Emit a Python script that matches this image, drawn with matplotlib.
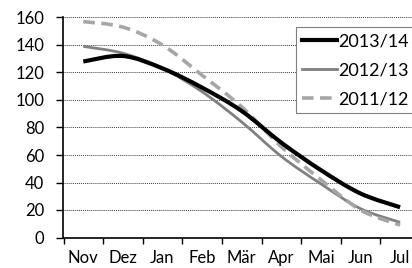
import numpy as np
import matplotlib
matplotlib.use("Agg")
import matplotlib.pyplot as plt
from matplotlib.path import Path
from matplotlib.patches import PathPatch
from matplotlib.lines import Line2D

plt.rcParams['font.family'] = ['Lato', 'DejaVu Sans']

months = ["Nov", "Dez", "Jan", "Feb", "Mär", "Apr", "Mai", "Jun", "Jul"]
s2013_14 = [128, 132, 123, 109, 92, 69, 49, 32, 22]
s2012_13 = [139, 134, 123, 106, 84, 59, 39, 21, 11]
s2011_12 = [157, 153, 140, 118, 95, 66, 42, 20, 9]


def smooth_path(y):
    # Excel-style smoothed line as bezier segments
    x = np.arange(len(y), dtype=float)
    y = np.asarray(y, dtype=float)
    verts = [(x[0], y[0])]
    codes = [Path.MOVETO]
    n = len(y)
    for i in range(n - 1):
        i0 = max(i - 1, 0)
        i3 = min(i + 2, n - 1)
        c1 = (x[i] + (x[i + 1] - x[i0]) / 6, y[i] + (y[i + 1] - y[i0]) / 6)
        c2 = (x[i + 1] - (x[i3] - x[i]) / 6, y[i + 1] - (y[i3] - y[i]) / 6)
        verts += [c1, c2, (x[i + 1], y[i + 1])]
        codes += [Path.CURVE4] * 3
    return Path(verts, codes)


fig = plt.figure(figsize=(4.12, 2.68), dpi=100)
ax = fig.add_axes([63.5 / 412, 30.5 / 268, 356.4 / 412, 220 / 268])

styles = [
    (s2012_13, "2012/13", "#808080", 2.0, "-"),
    (s2011_12, "2011/12", "#a6a6a6", 2.6, (0, (3.2, 1.8))),
    (s2013_14, "2013/14", "black", 3.0, "-"),
]
for vals, lab, col, lw, ls in styles:
    ax.add_patch(PathPatch(smooth_path(vals), facecolor="none", edgecolor=col,
                           lw=lw, linestyle=ls, capstyle="butt", zorder=3))

ax.set_xlim(-0.5, 8.5)
ax.set_ylim(0, 160)
ax.set_yticks(np.arange(0, 161, 20))
ax.set_xticks(np.arange(-0.5, 8.6, 1))
ax.set_xticklabels([])
ax.set_xticks(np.arange(9), minor=True)
ax.set_xticklabels(months, minor=True)
ax.tick_params(axis="x", which="minor", length=0, pad=9, labelsize=12)
ax.tick_params(axis="x", which="major", length=4, width=1, direction="out")
ax.tick_params(axis="y", length=5, width=1, direction="out", labelsize=12, pad=9)

ax.grid(axis="y", linestyle=(0, (1, 1)), color="#404040", linewidth=0.7)
ax.set_axisbelow(True)
for sp in ["top", "right"]:
    ax.spines[sp].set_visible(False)
ax.spines["left"].set_linewidth(1.2)
ax.spines["bottom"].set_linewidth(1.2)

handles = [
    Line2D([], [], color="black", lw=3.0),
    Line2D([], [], color="#808080", lw=2.0),
    Line2D([], [], color="#a6a6a6", lw=2.6, linestyle=(0, (3.2, 1.8))),
]
leg = fig.legend(handles, ["2013/14", "2012/13", "2011/12"],
                 loc="upper left", bbox_to_anchor=(296 / 412, 1 - 26.7 / 268),
                 bbox_transform=fig.transFigure, borderaxespad=0,
                 fontsize=13, handlelength=1.9, handletextpad=0.1,
                 labelspacing=0.72, borderpad=0.35, fancybox=False,
                 framealpha=1, edgecolor="#808080")
leg.get_frame().set_linewidth(0.8)

fig.savefig("out.png", dpi=100)
